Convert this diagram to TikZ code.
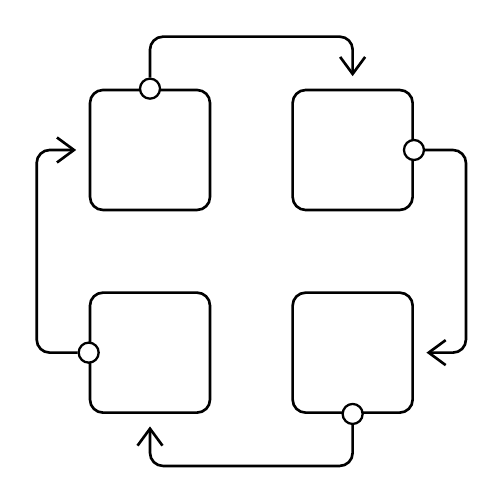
\documentclass[tikz,border=0pt]{standalone}
\usetikzlibrary{arrows.meta,positioning}

\begin{document}
\begin{tikzpicture}
[node distance=1.6cm,
stage/.style={draw=black,line width=1.5pt,rounded corners=0.26cm,minimum size=2.4cm,inner sep=0pt},
port/.style={shape=circle,draw=black,fill=white,line width=1.3pt,minimum size=0.4cm,inner sep=0pt},
flow/.style={line width=1.5pt,rounded corners=0.26cm,>={Straight Barb[length=0.34cm,width=0.5cm,line width=1.5pt]},shorten >=0.25cm}]
\useasboundingbox (0,0) rectangle (10,10);
%%
% stages
%%
\node[stage] at (3,7) (tl) {};
\node[stage,right=of tl] (tr) {};
\node[stage,below=of tl] (bl) {};
\node[stage,below=of tr] (br) {};
%%
% ports
%%
\node[port] at (tl.north) (ptl) {};
\node[port] at (tr.east) (ptr) {};
\node[port] at (br.south) (pbr) {};
\node[port] at (bl.west) (pbl) {};
%%
% flows
%%
\draw[flow,->] (ptl) -- ++(0,1.04) -| (tr);
\draw[flow,->] (ptr) -- ++(1.04,0) |- (br);
\draw[flow,->] (pbr) -- ++(0,-1.04) -| (bl);
\draw[flow,->] (pbl) -- ++(-1.04,0) |- (tl);
\end{tikzpicture}
\end{document}
